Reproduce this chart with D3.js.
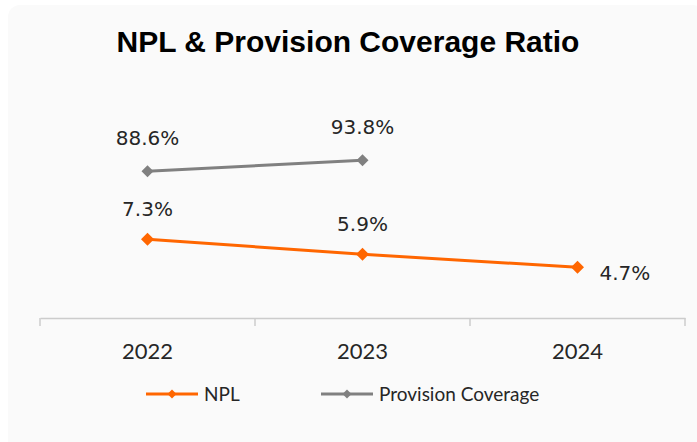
<!DOCTYPE html>
<html>
<head>
<meta charset="utf-8">
<script src="https://cdn.jsdelivr.net/npm/d3@7"></script>
<style>
  body { margin: 0; background: #ffffff; }
  .chartTitle { font-family: "Liberation Sans", Arial, sans-serif; font-weight: bold; font-size: 30px; fill: #000; }
  .dataLabel { font-family: "DejaVu Sans", sans-serif; font-size: 20px; fill: #262626; }
  .x.axis text { font-family: Lato, sans-serif; font-size: 22px; fill: #262626; }
  .legendText { font-family: Lato, sans-serif; font-size: 19px; fill: #262626; }
</style>
</head>
<body>
<div id="chart"></div>
<script>
// chart data
const years = ["2022", "2023", "2024"];
const npl = [7.3, 5.9, 4.7];
const coverage = [88.6, 93.8, null];   // no 2024 figure
const seriesNames = ["NPL", "Provision Coverage"];

const W = 697, H = 442;
const orange = "#ff6600", grey = "#808080";

const svg = d3.select("#chart").append("svg")
    .attr("width", W)
    .attr("height", H);

// light panel behind everything
svg.append("rect")
    .attr("x", 8).attr("y", 5)
    .attr("width", W).attr("height", H + 10)
    .attr("rx", 12)
    .attr("fill", "#fafafa");

svg.append("text")
    .attr("class", "chartTitle")
    .attr("x", 348)
    .attr("y", 52)
    .attr("text-anchor", "middle")
    .text("NPL & Provision Coverage Ratio");

// scales: NPL on primary axis, coverage on a hidden secondary axis
const x = d3.scaleBand()
    .domain(years)
    .range([40, 685]);

const y = d3.scaleLinear()
    .domain([0, 25])
    .range([318, 48]);

const y2 = d3.scaleLinear()
    .domain([19, 147])
    .range([318, 48]);

const cx = d => x(d) + x.bandwidth() / 2;

// x axis
const xAxis = svg.append("g")
    .attr("class", "x axis")
    .attr("transform", "translate(0," + y(0) + ")")
    .call(d3.axisBottom(x).tickSize(0).tickSizeOuter(0).tickPadding(25));

xAxis.select(".domain")
    .attr("stroke", "#cccccc")
    .attr("stroke-width", 1.5);

// tick marks sit between the categories
xAxis.selectAll("line.boundary")
    .data(d3.range(years.length + 1))
    .enter()
    .append("line")
    .attr("class", "boundary")
    .attr("x1", i => x.range()[0] + i * x.step())
    .attr("x2", i => x.range()[0] + i * x.step())
    .attr("y1", 0)
    .attr("y2", 8)
    .attr("stroke", "#cccccc")
    .attr("stroke-width", 1.5);

const diamond = size => d3.symbol().type(d3.symbolSquare).size(size);

function drawSeries(values, scale, color, markerSize, cls) {
    const pts = years.map((yr, i) => ({yr: yr, v: values[i]})).filter(d => d.v != null);

    const line = d3.line()
        .x(d => cx(d.yr))
        .y(d => scale(d.v));

    svg.append("path")
        .datum(pts)
        .attr("fill", "none")
        .attr("stroke", color)
        .attr("stroke-width", 3)
        .attr("d", line);

    svg.selectAll("path." + cls)
        .data(pts)
        .enter()
        .append("path")
        .attr("class", cls)
        .attr("d", diamond(markerSize)())
        .attr("transform", d => "translate(" + cx(d.yr) + "," + scale(d.v) + ") rotate(45)")
        .attr("fill", color);

    return pts;
}

const nplPts = drawSeries(npl, y, orange, 85, "nplMarker");
const covPts = drawSeries(coverage, y2, grey, 72, "covMarker");

// data labels
svg.selectAll("text.covLabel")
    .data(covPts)
    .enter()
    .append("text")
    .attr("class", "dataLabel covLabel")
    .attr("x", d => cx(d.yr))
    .attr("y", d => y2(d.v) - 26)
    .attr("text-anchor", "middle")
    .text(d => d.v.toFixed(1) + "%");

// last NPL label sits to the right of its point
const isLast = i => i === nplPts.length - 1;
svg.selectAll("text.nplLabel")
    .data(nplPts)
    .enter()
    .append("text")
    .attr("class", "dataLabel nplLabel")
    .attr("x", (d, i) => isLast(i) ? cx(d.yr) + 22 : cx(d.yr))
    .attr("y", (d, i) => isLast(i) ? y(d.v) + 13 : y(d.v) - 23)
    .attr("text-anchor", (d, i) => isLast(i) ? "start" : "middle")
    .text(d => d.v.toFixed(1) + "%");

// legend
const legend = svg.append("g").attr("class", "legend");
const legendX = [146, 321];
const legendColors = [orange, grey];

seriesNames.forEach((name, i) => {
    const g = legend.append("g")
        .attr("transform", "translate(" + legendX[i] + ",394)");
    g.append("line")
        .attr("x1", 0).attr("x2", 52)
        .attr("stroke", legendColors[i])
        .attr("stroke-width", 3);
    g.append("path")
        .attr("d", diamond(40)())
        .attr("transform", "translate(26,0) rotate(45)")
        .attr("fill", legendColors[i]);
    g.append("text")
        .attr("class", "legendText")
        .attr("x", 58)
        .attr("y", 7)
        .text(name);
});
</script>
</body>
</html>
